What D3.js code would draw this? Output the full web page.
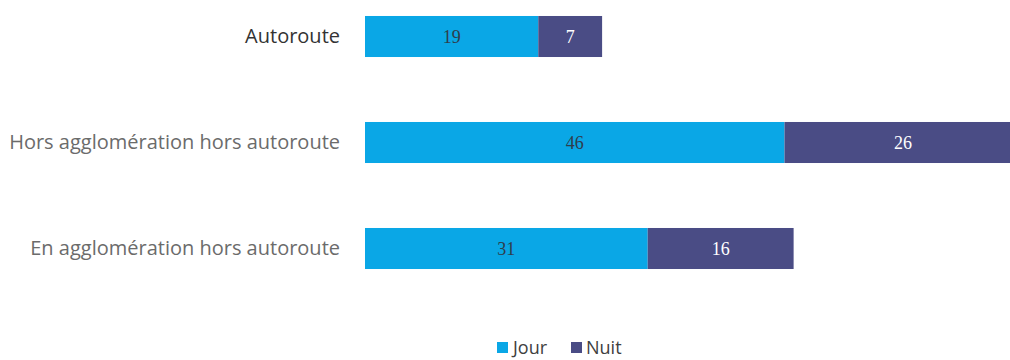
<!DOCTYPE html>
<html>
<head>
<meta charset="utf-8">
<script src="https://cdn.jsdelivr.net/npm/d3@7"></script>
<style>
  html, body { margin: 0; padding: 0; background: #fff; }
  svg { display: block; }
</style>
</head>
<body>
<svg id="chart" width="1010" height="360"></svg>
<script>
// Catégories (de haut en bas) et valeurs par période
const categories = ["Autoroute", "Hors agglomération hors autoroute", "En agglomération hors autoroute"];
const jour = [19, 46, 31];
const nuit = [7, 26, 16];
const seriesNames = ["Jour", "Nuit"];
const seriesColors = ["#0aa7e6", "#4a4c85"];
const labelColors = ["#2f3d4c", "#ffffff"];
const categoryColors = ["#333333", "#6b6b6b", "#6b6b6b"];

const svg = d3.select("#chart");

const rows = categories.map((c, i) => ({ cat: c, Jour: jour[i], Nuit: nuit[i] }));
const stacked = d3.stack().keys(seriesNames)(rows);

const x = d3.scaleLinear().domain([0, 72]).range([365, 1021.6]);
const y = d3.scaleBand()
  .domain(categories)
  .range([-16.5, 301.5])
  .paddingInner(0.613)
  .paddingOuter(0.3065);

const color = d3.scaleOrdinal().domain(seriesNames).range(seriesColors);

// Segments empilés
const layer = svg.append("g").selectAll("g")
  .data(stacked)
  .join("g")
  .attr("fill", d => color(d.key));

layer.selectAll("rect")
  .data(d => d)
  .join("rect")
  .attr("x", d => x(d[0]))
  .attr("y", d => y(d.data.cat))
  .attr("width", d => x(d[1]) - x(d[0]))
  .attr("height", y.bandwidth());

// Valeurs au centre de chaque segment
svg.append("g").selectAll("g")
  .data(stacked)
  .join("g")
  .attr("fill", (d, i) => labelColors[i])
  .selectAll("text")
  .data(d => d)
  .join("text")
  .attr("x", d => (x(d[0]) + x(d[1])) / 2)
  .attr("y", d => y(d.data.cat) + y.bandwidth() / 2)
  .attr("dy", "0.35em")
  .attr("text-anchor", "middle")
  .style("font-family", "'Liberation Serif', 'DejaVu Serif', serif")
  .style("font-size", "18px")
  .text(d => d[1] - d[0]);

// Axe des catégories (sans trait ni graduations)
const yAxis = svg.append("g")
  .attr("transform", "translate(350,0)")
  .call(d3.axisLeft(y).tickSize(0).tickPadding(10));
yAxis.select(".domain").remove();
yAxis.selectAll("text")
  .style("font-family", "'Open Sans', sans-serif")
  .style("font-size", "20px")
  .attr("fill", (d, i) => categoryColors[i]);

// Légende
const legendItems = [
  { name: "Jour", sx: 497, tx: 513 },
  { name: "Nuit", sx: 571, tx: 586 }
];
const legend = svg.append("g");
legend.selectAll("rect")
  .data(legendItems)
  .join("rect")
  .attr("x", d => d.sx)
  .attr("y", 342)
  .attr("width", 11)
  .attr("height", 11)
  .attr("fill", d => color(d.name));
legend.selectAll("text")
  .data(legendItems)
  .join("text")
  .attr("x", d => d.tx)
  .attr("y", 354)
  .attr("fill", "#404040")
  .style("font-family", "'Open Sans', sans-serif")
  .style("font-size", "18px")
  .text(d => d.name);
</script>
</body>
</html>
